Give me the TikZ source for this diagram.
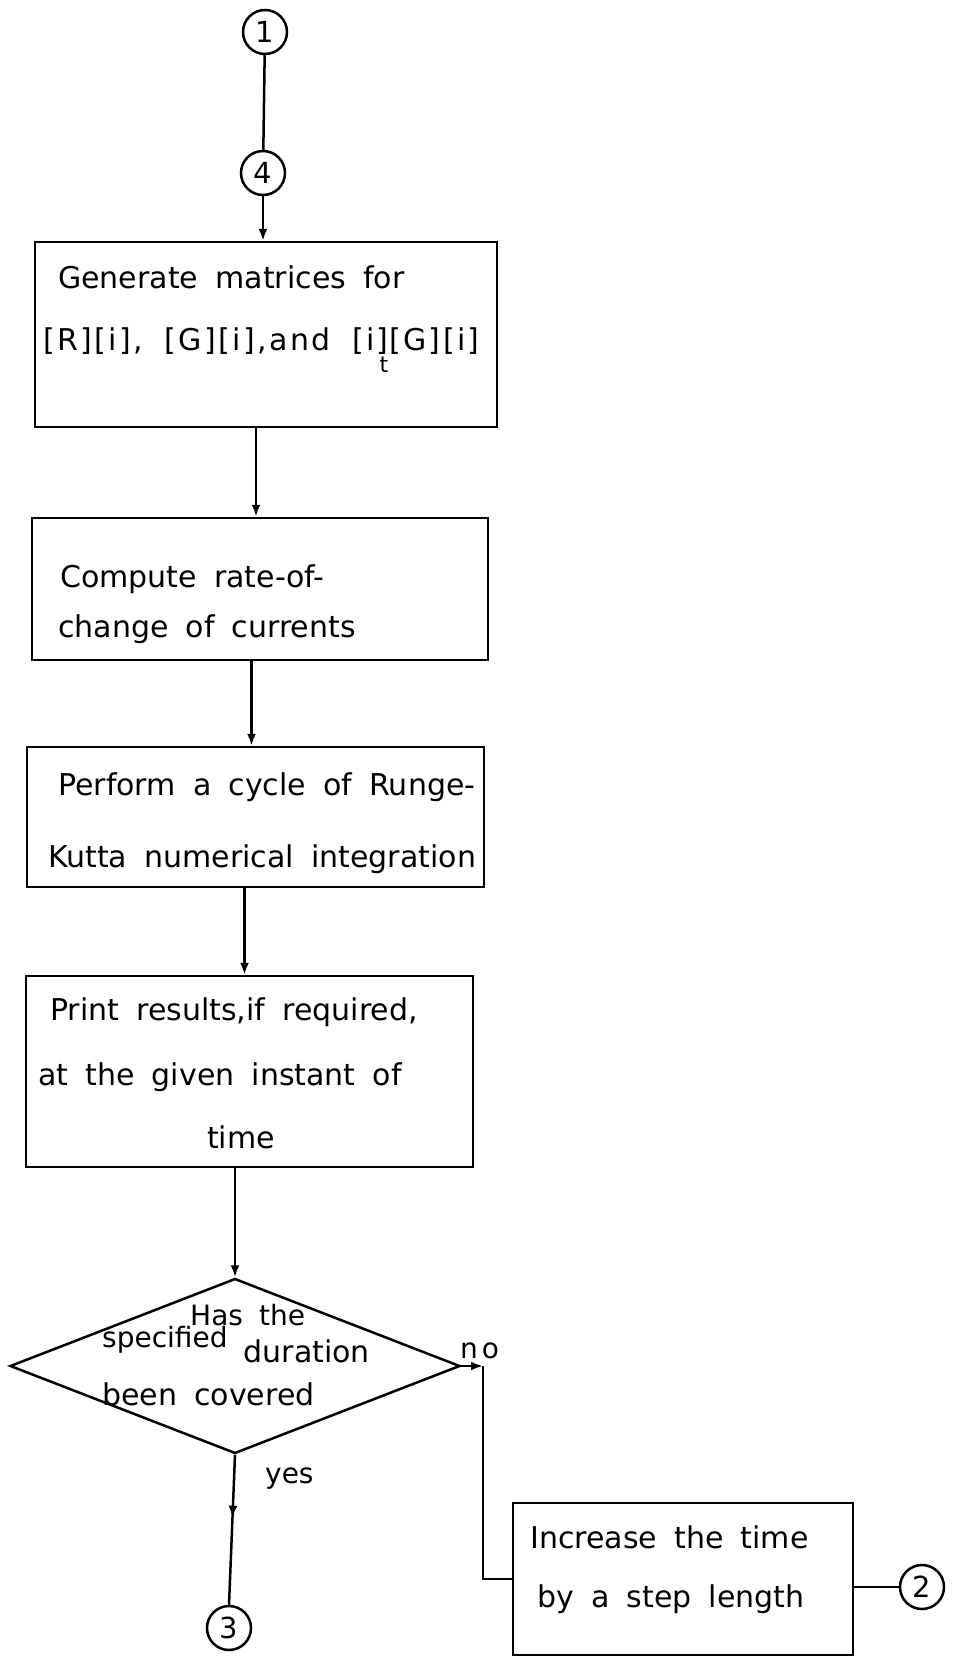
\documentclass[tikz,border=0pt]{standalone}
\usepackage{fontspec}
\setmainfont{DejaVu Sans}[WordSpace=1.8]
\usetikzlibrary{shapes.geometric,arrows.meta,decorations.markings}
\tikzset{
  ln/.style={line width=2.5pt},
  box/.style={draw, ln, inner sep=0pt},
  conn/.style={draw, circle, ln, minimum size=44pt, inner sep=0pt, font=\fontsize{29}{29}\selectfont},
  txt/.style={anchor=base west, inner sep=0pt, font=\fontsize{30}{30}\selectfont},
  smalltxt/.style={txt, font=\fontsize{28}{28}\selectfont},
  arr/.style={ln, -{Latex[length=12pt,width=9pt]}},
  midarr/.style={ln, postaction={decorate}, decoration={markings, mark=at position 0.42 with {\arrow{Latex[length=12pt,width=9pt]}}}}
}
\begin{document}
\begin{tikzpicture}[x=1pt,y=-1pt]
\useasboundingbox (0,0) rectangle (957,1662);

% connectors (circles)
\node[conn] (c1) at (265,32) {1};
\node[conn] (c4) at (263,173) {4};
\node[conn] (c2) at (922,1587) {2};
\node[conn] (c3) at (229,1628) {3};

% boxes
\node[box, minimum width=462pt, minimum height=185pt] (gen) at (266,334.5) {};
\node[box, minimum width=456pt, minimum height=142pt] (cmp) at (260,589) {};
\node[box, minimum width=457pt, minimum height=140pt] (rk)  at (255.5,817) {};
\node[box, minimum width=447pt, minimum height=191pt] (prt) at (249.5,1071.5) {};
\node[draw, ln, diamond, inner sep=0pt, minimum width=450pt, minimum height=175pt] (dia) at (235,1366) {};
\node[box, minimum width=340pt, minimum height=152pt] (inc) at (683,1579) {};

% texts
\node[txt] (t1a) at (58,288) {Generate matrices for};
\node[txt, font=\fontsize{30}{30}\selectfont\addfontfeatures{LetterSpace=8}] (t1b) at (43,350)
  {[R][i], [G][i],and [i]\kern-9pt\raisebox{-22pt}{\fontsize{22}{22}\selectfont t}\kern1pt[G][i]};
\node[txt] (t2a) at (60,587) {Compute rate-of-};
\node[txt] (t2b) at (58,637) {change of currents};
\node[txt] (t3a) at (58,795) {Perform a cycle of Runge-};
\node[txt] (t3b) at (48,867) {Kutta numerical integration};
\node[txt] (t4a) at (50,1020) {Print results,if required,};
\node[txt] (t4b) at (38,1085) {at the given instant of};
\node[txt] (t4c) at (207,1148) {time};
\node[smalltxt] (td1) at (190,1325) {Has the};
\node[smalltxt] (td2) at (102,1347) {specified \raisebox{-15pt}{\fontsize{30}{30}\selectfont duration}};
\node[txt] (td3) at (102,1405) {been covered};
\node[smalltxt] (lno) at (460,1358) {n\kern4pt o};
\node[smalltxt] (lyes) at (265,1483) {yes};
\node[txt] (t5a) at (530,1548) {Increase the time};
\node[txt] (t5b) at (537,1607) {by a step length};

% flow lines
\draw[ln] (c1) -- (c4);
\draw[arr] (c4) -- (c4 |- gen.north);
\draw[arr] ([xshift=-4pt]gen.south -| cmp.north) -- ([xshift=-4pt]cmp.north);
\draw[arr] ([xshift=-4pt]cmp.south -| rk.north) -- ([xshift=-4pt]rk.north);
\draw[arr] ([xshift=-5pt]rk.south -| prt.north) -- ([xshift=-5pt]prt.north);
\draw[arr] (prt.south -| dia.north) -- (dia.north);
\draw[midarr] (dia.south) -- (c3.north);
\coordinate (nc) at (483,1366);
\draw[arr] (dia.east) -- (nc);
\draw[ln] (nc) |- (inc.west);
\draw[ln] (c2.west -| inc.east) -- (c2.west);
\end{tikzpicture}
\end{document}
